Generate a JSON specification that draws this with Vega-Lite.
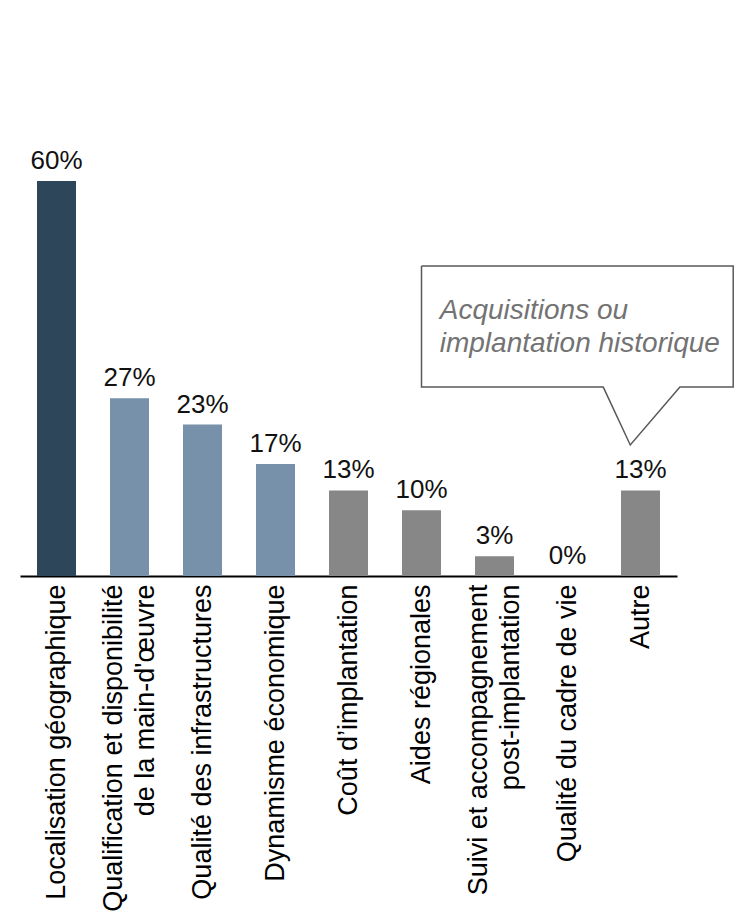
{
  "$schema": "https://vega.github.io/schema/vega-lite/v6.json",
  "width": 657,
  "height": 576,
  "autosize": {"type": "none"},
  "padding": {"left": 20, "top": 0, "right": 66, "bottom": 339},
  "background": "white",
  "config": {"view": {"stroke": null}, "font": "Liberation Sans"},
  "datasets": {
    "bars": [
      {"facteur": "Localisation géographique", "pct": 0.60, "groupe": "a"},
      {"facteur": "Qualification et disponibilité|de la main-d'œuvre", "pct": 0.27, "groupe": "b"},
      {"facteur": "Qualité des infrastructures", "pct": 0.23, "groupe": "b"},
      {"facteur": "Dynamisme économique", "pct": 0.17, "groupe": "b"},
      {"facteur": "Coût d’implantation", "pct": 0.13, "groupe": "c"},
      {"facteur": "Aides régionales", "pct": 0.10, "groupe": "c"},
      {"facteur": "Suivi et accompagnement|post-implantation", "pct": 0.03, "groupe": "c"},
      {"facteur": "Qualité du cadre de vie", "pct": 0.0, "groupe": "c"},
      {"facteur": "Autre", "pct": 0.13, "groupe": "c"}
    ],
    "callout": [
      {"o": 1, "cx": 5.0, "cy": 0.471},
      {"o": 2, "cx": 9.27, "cy": 0.471},
      {"o": 3, "cx": 9.27, "cy": 0.287},
      {"o": 4, "cx": 8.54, "cy": 0.287},
      {"o": 5, "cx": 7.86, "cy": 0.199},
      {"o": 6, "cx": 7.49, "cy": 0.287},
      {"o": 7, "cx": 5.0, "cy": 0.287},
      {"o": 8, "cx": 5.0, "cy": 0.471}
    ],
    "calloutText": [
      {"t": "Acquisitions ou", "tx": 5.25, "ty": 0.391},
      {"t": "implantation historique", "tx": 5.25, "ty": 0.341}
    ]
  },
  "layer": [
    {
      "data": {"name": "bars"},
      "encoding": {
        "x": {
          "field": "facteur",
          "type": "nominal",
          "sort": null,
          "scale": {"paddingInner": 0.466, "paddingOuter": 0.233},
          "axis": {
            "title": null,
            "domain": true,
            "domainColor": "black",
            "domainWidth": 2,
            "ticks": false,
            "grid": false,
            "labelAngle": -90,
            "labelAlign": "right",
            "labelBaseline": "middle",
            "labelFont": "Liberation Sans",
            "labelFontWeight": "normal",
            "labelFontSize": 27,
            "labelColor": "black",
            "labelPadding": 8,
            "labelLimit": 500,
            "labelOverlap": false,
            "labelLineHeight": 32,
            "labelOffset": {"condition": {"test": "indexof(datum.value, '|') >= 0", "value": -16}, "value": 0},
            "labelExpr": "split(datum.value, '|')"
          }
        },
        "y": {
          "field": "pct",
          "type": "quantitative",
          "scale": {"domain": [0, 0.875], "nice": false},
          "axis": null
        }
      },
      "layer": [
        {
          "mark": {"type": "bar", "width": 39},
          "encoding": {
            "color": {
              "field": "groupe",
              "type": "nominal",
              "scale": {"domain": ["a", "b", "c"], "range": ["#2e4659", "#7891aa", "#878787"]},
              "legend": null
            }
          }
        },
        {
          "mark": {"type": "text", "baseline": "alphabetic", "dy": -12, "fontSize": 26, "font": "Liberation Sans", "fontWeight": "normal", "color": "#111111"},
          "encoding": {
            "text": {"field": "pct", "type": "quantitative", "format": ".0%"}
          }
        }
      ]
    },
    {
      "layer": [
        {
          "data": {"name": "callout"},
          "mark": {"type": "line", "stroke": "#595959", "strokeWidth": 1.5, "clip": false},
          "encoding": {
            "x": {"field": "cx", "type": "quantitative", "scale": {"domain": [-0.5, 8.5], "nice": false, "zero": false}, "axis": null},
            "y": {"field": "cy", "type": "quantitative", "scale": {"domain": [0, 0.875], "nice": false}, "axis": null},
            "order": {"field": "o", "type": "quantitative"}
          }
        },
        {
          "data": {"name": "calloutText"},
          "mark": {"type": "text", "align": "left", "baseline": "alphabetic", "fontSize": 28, "font": "Liberation Sans", "fontStyle": "italic", "color": "#737373"},
          "encoding": {
            "x": {"field": "tx", "type": "quantitative", "scale": {"domain": [-0.5, 8.5], "nice": false, "zero": false}, "axis": null},
            "y": {"field": "ty", "type": "quantitative", "scale": {"domain": [0, 0.875], "nice": false}, "axis": null},
            "text": {"field": "t"}
          }
        }
      ]
    }
  ],
  "resolve": {"scale": {"x": "independent", "y": "independent"}}
}
